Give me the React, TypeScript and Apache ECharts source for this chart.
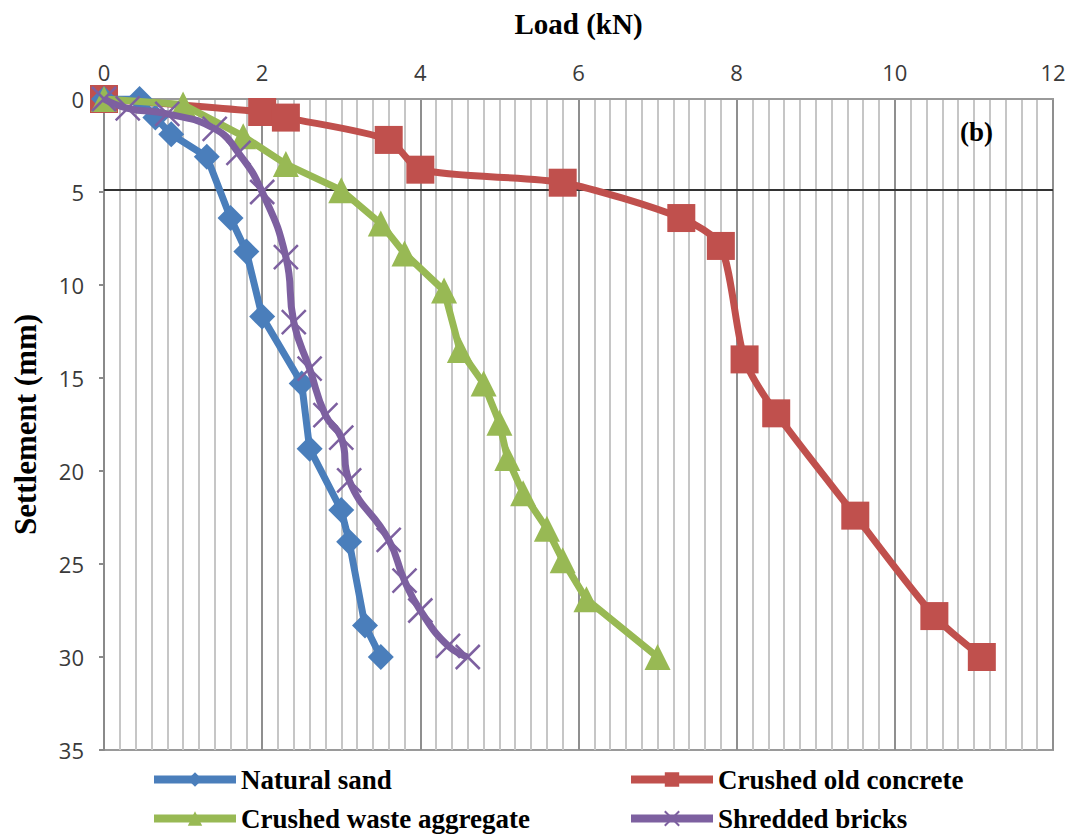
import React, { useEffect, useRef } from "react";
import * as echarts from "echarts";

// Load (kN) vs settlement (mm) for four backfill materials
const naturalSandLoad = [0, 0.45, 0.65, 0.85, 1.3, 1.6, 1.8, 2.0, 2.5, 2.6, 3.0, 3.1, 3.3, 3.5];
const naturalSandSettle = [0, 0, 1.0, 1.9, 3.1, 6.4, 8.2, 11.7, 15.3, 18.8, 22.1, 23.8, 28.3, 30];

const concreteLoad = [0, 2.0, 2.3, 3.6, 4.0, 5.8, 7.3, 7.8, 8.1, 8.5, 9.5, 10.5, 11.1];
const concreteSettle = [0, 0.7, 1.0, 2.2, 3.8, 4.5, 6.4, 7.9, 14.0, 16.9, 22.4, 27.8, 30];

const wasteLoad = [0, 1.0, 1.76, 2.3, 3.0, 3.5, 3.8, 4.3, 4.5, 4.8, 5.0, 5.1, 5.3, 5.6, 5.8, 6.1, 7.0];
const wasteSettle = [0, 0.3, 2.0, 3.5, 4.9, 6.7, 8.3, 10.3, 13.5, 15.3, 17.4, 19.3, 21.2, 23.1, 24.8, 26.9, 30];

const bricksLoad = [0, 0.3, 0.8, 1.4, 1.7, 2.0, 2.3, 2.4, 2.6, 2.8, 3.0, 3.1, 3.6, 3.8, 4.0, 4.35, 4.6];
const bricksSettle = [0, 0.5, 0.8, 1.6, 2.9, 5.0, 8.5, 12.0, 14.5, 17.0, 18.2, 20.5, 23.7, 25.9, 27.5, 29.4, 30];

const seriesNames = ["Natural sand", "Crushed old concrete", "Crushed waste aggregate", "Shredded bricks"];
const loadTicks = [0, 12, 2]; // min, max, interval
const settleTicks = [0, 35, 5];
const referenceSettle = 4.9;

const pair = (xs: number[], ys: number[]) => xs.map((x, i) => [x, ys[i]]);

const serif = "'Liberation Serif', 'Times New Roman', serif";
const tickFont = "'Open Sans', 'Liberation Sans', sans-serif";
const CROSS = "path://M0,0L20,20M20,0L0,20";

export default function App() {
  const ref = useRef<HTMLDivElement>(null);

  useEffect(() => {
    if (!ref.current) return;
    const chart = echarts.init(ref.current, null, { renderer: "svg" });

    const legendText = { fontFamily: serif, fontWeight: "bold" as const, fontSize: 27, color: "#000" };
    const mkLegend = (name: string, left: number, top: number) => ({
      data: [name],
      left,
      top,
      padding: 0,
      itemWidth: 82,
      itemHeight: 18,
      lineStyle: { width: 8 },
      textStyle: legendText,
    });

    chart.setOption({
      animation: false,
      backgroundColor: "#fff",
      grid: {
        left: 104,
        right: 19,
        top: 99,
        bottom: 84,
        outerBoundsMode: "none",
        containLabel: false,
        show: true,
        borderColor: "#9a9a9a",
        borderWidth: 2,
      },
      xAxis: {
        type: "value",
        position: "top",
        min: loadTicks[0],
        max: loadTicks[1],
        interval: loadTicks[2],
        name: "Load (kN)",
        nameLocation: "middle",
        nameGap: 61,
        nameTextStyle: { fontFamily: serif, fontWeight: "bold", fontSize: 29, color: "#000" },
        axisLine: { show: true, lineStyle: { color: "#9a9a9a", width: 2 } },
        axisTick: { show: false },
        axisLabel: { margin: 16, fontFamily: tickFont, fontSize: 22, color: "#3a3a3a" },
        splitLine: { show: true, lineStyle: { color: "#8f8f8f", width: 2 } },
        minorTick: { show: false, splitNumber: 10 },
        minorSplitLine: { show: true, lineStyle: { color: "#c6c6c6", width: 2 } },
      },
      yAxis: {
        type: "value",
        inverse: true,
        min: settleTicks[0],
        max: settleTicks[1],
        interval: settleTicks[2],
        name: "Settlement (mm)",
        nameLocation: "middle",
        nameRotate: 90,
        nameGap: 63,
        nameTextStyle: { fontFamily: serif, fontWeight: "bold", fontSize: 31, color: "#000" },
        axisLine: { show: true, lineStyle: { color: "#8a8a8a", width: 2 } },
        axisTick: { show: true, length: 5, lineStyle: { color: "#8a8a8a", width: 2 } },
        axisLabel: { margin: 20, fontFamily: tickFont, fontSize: 22, color: "#3a3a3a" },
        splitLine: { show: false },
      },
      legend: [
        mkLegend(seriesNames[0], 150, 766),
        mkLegend(seriesNames[1], 627, 766),
        mkLegend(seriesNames[2], 150, 805),
        mkLegend(seriesNames[3], 627, 805),
      ],
      graphic: [
        {
          type: "text",
          left: 960,
          top: 118,
          z: 100,
          style: { text: "(b)", font: `bold 27px ${serif}`, fill: "#000" },
        },
      ],
      series: [
        {
          name: seriesNames[1],
          type: "line",
          data: pair(concreteLoad, concreteSettle),
          smooth: 0.25,
          symbol: "rect",
          symbolSize: 28,
          lineStyle: { color: "#c0504d", width: 7 },
          itemStyle: { color: "#c0504d" },
          z: 2,
          markLine: {
            silent: true,
            symbol: "none",
            label: { show: false },
            lineStyle: { color: "#333", width: 2, type: "solid" },
            data: [{ yAxis: referenceSettle }],
            z: 1,
          },
        },
        {
          name: seriesNames[0],
          type: "line",
          data: pair(naturalSandLoad, naturalSandSettle),
          symbol: "diamond",
          symbolSize: 26,
          lineStyle: { color: "#4a7ebb", width: 7 },
          itemStyle: { color: "#4a7ebb" },
          z: 3,
        },
        {
          name: seriesNames[2],
          type: "line",
          data: pair(wasteLoad, wasteSettle),
          symbol: "triangle",
          symbolSize: 26,
          lineStyle: { color: "#98b954", width: 7 },
          itemStyle: { color: "#98b954" },
          z: 4,
        },
        {
          name: seriesNames[3],
          type: "line",
          data: pair(bricksLoad, bricksSettle),
          smooth: 0.5,
          symbol: CROSS,
          symbolSize: 24,
          lineStyle: { color: "#7d60a0", width: 7 },
          itemStyle: { color: "#7d60a0", borderColor: "#7d60a0", borderWidth: 2.5 },
          z: 5,
        },
      ],
    });

    return () => chart.dispose();
  }, []);

  return (
    <div
      ref={ref}
      style={{ position: "fixed", left: 0, top: 0, width: 1072, height: 834, background: "#fff" }}
    />
  );
}
